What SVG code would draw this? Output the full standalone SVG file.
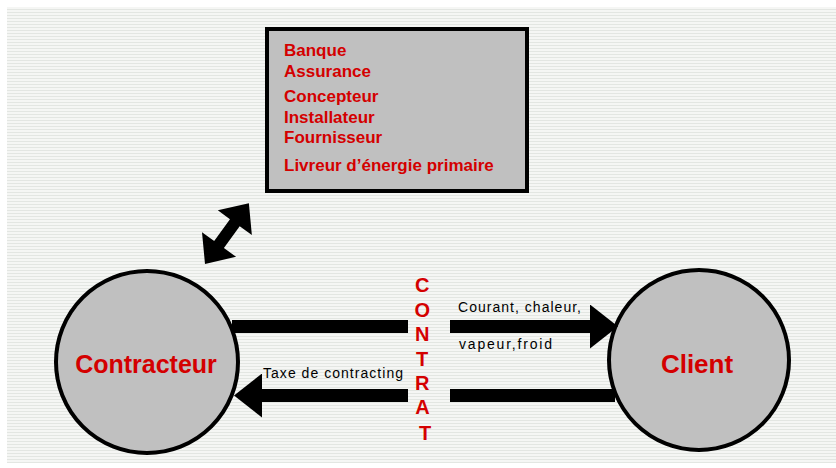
<svg xmlns="http://www.w3.org/2000/svg" width="836" height="468" viewBox="0 0 836 468">
  <defs>
    <pattern id="stripes" x="0" y="0" width="8" height="3" patternUnits="userSpaceOnUse">
      <rect x="0" y="0" width="8" height="3" fill="#f5f6f4"/>
      <rect x="0" y="0" width="8" height="1" fill="#e3e6e2"/>
    </pattern>
    <marker id="head" viewBox="0 0 28 44" refX="0" refY="22" markerWidth="28" markerHeight="44" markerUnits="userSpaceOnUse" orient="auto">
      <path d="M0,0 L28,22 L0,44 Z" fill="#000"/>
    </marker>
    <style>
      .node { fill: #c0c0c0; stroke: #000; stroke-width: 4; }
      .red { fill: #d40000; font-family: "Liberation Sans", Arial, sans-serif; font-weight: bold; }
      .lbl { fill: #000; font-family: "Liberation Sans", Arial, sans-serif; font-size: 14px; }
      .bar { stroke: #000; stroke-width: 13; fill: none; }
    </style>
  </defs>

  <rect x="0" y="0" width="836" height="468" fill="#ffffff"/>
  <rect x="7" y="7" width="829" height="456" fill="url(#stripes)"/>

  <g id="actors">
    <rect x="267" y="29" width="260" height="162" class="node"/>
    <text class="red" font-size="17" x="284" y="56">Banque</text>
    <text class="red" font-size="17" x="284" y="77">Assurance</text>
    <text class="red" font-size="17" x="284" y="102">Concepteur</text>
    <text class="red" font-size="17" x="284" y="123">Installateur</text>
    <text class="red" font-size="17" x="284" y="143">Fournisseur</text>
    <text class="red" font-size="17" x="284" y="171">Livreur d’énergie primaire</text>
  </g>

  <g id="contracteur">
    <circle cx="147" cy="362" r="91" class="node"/>
    <text class="red" font-size="25" x="146" y="373" text-anchor="middle">Contracteur</text>
  </g>

  <g id="client">
    <circle cx="699" cy="360" r="90" class="node"/>
    <text class="red" font-size="26" x="697" y="373" text-anchor="middle">Client</text>
  </g>

  <g id="contrat">
    <text class="red" font-size="20" text-anchor="middle">
      <tspan x="425" y="292">C</tspan>
      <tspan x="425" y="317">O</tspan>
      <tspan x="425" y="341">N</tspan>
      <tspan x="425" y="366">T</tspan>
      <tspan x="425" y="390">R</tspan>
      <tspan x="425" y="414">A</tspan>
      <tspan x="425" y="440">T</tspan>
    </text>
  </g>

  <g id="connectors">
    <line class="bar" x1="232" y1="326.5" x2="408" y2="326.5"/>
    <line class="bar" x1="450" y1="326.5" x2="590" y2="326.5" marker-end="url(#head)"/>
    <line class="bar" x1="615" y1="395.5" x2="450" y2="395.5"/>
    <line class="bar" x1="408" y1="395.5" x2="262" y2="395.5" marker-end="url(#head)"/>
    <polygon points="0,0 24,-21 24,-6 51,-6 51,-21 75,0 51,21 51,6 24,6 24,21" fill="#000" transform="translate(205,264) rotate(-54.2)"/>
    <text class="lbl" x="458" y="312" textLength="123" lengthAdjust="spacing">Courant, chaleur,</text>
    <text class="lbl" x="459" y="349" textLength="93" lengthAdjust="spacing">vapeur,froid</text>
    <text class="lbl" x="263" y="378" textLength="140" lengthAdjust="spacing">Taxe de contracting</text>
  </g>
</svg>
